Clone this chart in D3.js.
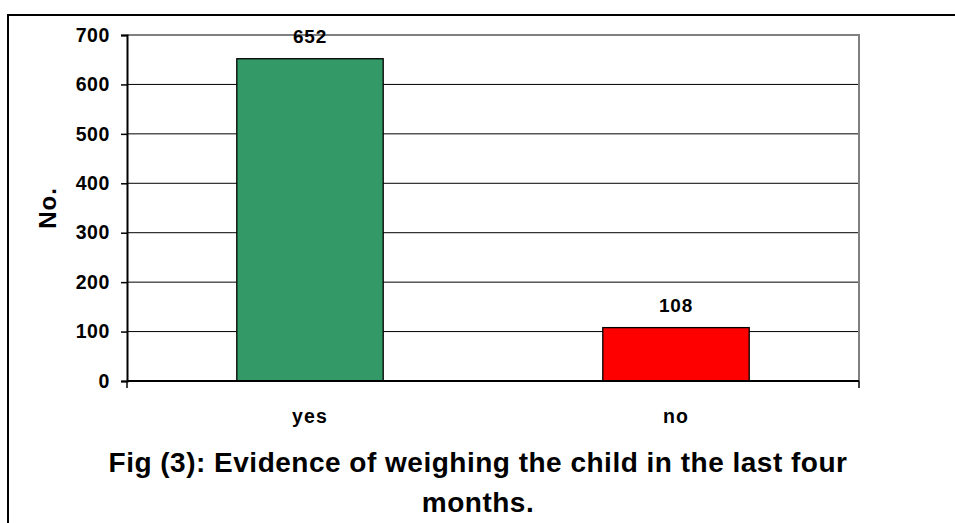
<!DOCTYPE html>
<html lang="en">
<head>
<meta charset="UTF-8">
<script src="https://d3js.org/d3.v7.min.js"></script>
<title>Fig 3</title>
<style>
    body { margin: 0; background: #fff; }
    svg { display: block; font-family: "Liberation Sans", Arial, sans-serif; font-weight: bold; }
</style>
</head>
<body>
<svg width="955" height="523"></svg>
<script>
    const categories = ["yes", "no"]
    const values = [652, 108]
    const colors = ["#339966", "#FF0000"]
    const yTicks = [0, 100, 200, 300, 400, 500, 600, 700]

    const margin = { left: 127, right: 96, top: 35, bottom: 142 }
    const width = 955, height = 523
    const font = "Liberation Sans, Arial, sans-serif"
    const svg = d3.select("svg")

    // outer frame
    svg.append("rect")
        .attr("x", 8).attr("y", 15)
        .attr("width", 960).attr("height", 520)
        .attr("fill", "none").attr("stroke", "#000").attr("stroke-width", 2)

    const x = d3.scaleBand()
        .domain(categories)
        .range([margin.left, width - margin.right])
        .paddingInner(0.6)
        .paddingOuter(0.3)
    const y = d3.scaleLinear()
        .domain([0, 700])
        .range([height - margin.bottom, margin.top])

    // grid lines
    svg.append("g").selectAll("line")
        .data(yTicks.slice(1, -1))
        .join("line")
        .attr("x1", margin.left).attr("x2", width - margin.right)
        .attr("y1", d => y(d)).attr("y2", d => y(d))
        .attr("stroke", "#000").attr("stroke-width", 1)

    // plot border top/right (gray)
    svg.append("path")
        .attr("d", `M${margin.left},${y(700)}H${width - margin.right}V${y(0)}`)
        .attr("fill", "none").attr("stroke", "#808080").attr("stroke-width", 2)

    // bars
    svg.append("g").selectAll("rect")
        .data(values)
        .join("rect")
        .attr("x", (d, i) => x(categories[i]))
        .attr("y", d => y(d))
        .attr("width", x.bandwidth())
        .attr("height", d => y(0) - y(d))
        .attr("fill", (d, i) => colors[i])
        .attr("stroke", "#000").attr("stroke-width", 1.3)

    // value labels
    svg.append("g").selectAll("text")
        .data(values)
        .join("text")
        .attr("x", (d, i) => x(categories[i]) + x.bandwidth() / 2)
        .attr("y", d => y(d) - 16)
        .attr("text-anchor", "middle")
        .attr("font-size", 19)
        .attr("letter-spacing", 0.8)
        .text(d => d)

    // y axis
    const yAxis = svg.append("g")
        .attr("transform", `translate(${margin.left},0)`)
        .call(d3.axisLeft(y).tickValues(yTicks).tickSize(6).tickPadding(11))
    yAxis.select(".domain").attr("stroke", "#000").attr("stroke-width", 2)
    yAxis.selectAll(".tick line").attr("stroke", "#000").attr("stroke-width", 1.5)
    yAxis.selectAll(".tick text")
        .attr("font-size", 19.5).attr("font-family", font)
        .attr("letter-spacing", 0.6)
        .attr("font-weight", "bold").attr("fill", "#000")

    // x axis
    const xAxis = svg.append("g")
        .attr("transform", `translate(0,${y(0)})`)
        .call(d3.axisBottom(x).tickSize(0).tickPadding(28))
    xAxis.select(".domain").attr("stroke", "#000").attr("stroke-width", 2)
        .attr("d", `M${margin.left},0H${width - margin.right}`)
    xAxis.selectAll(".tick text")
        .attr("font-size", 19.5).attr("font-family", font)
        .attr("letter-spacing", 1.2)
        .attr("font-weight", "bold").attr("fill", "#000")
    // end ticks of the category axis
    const edges = [margin.left, width - margin.right]
    xAxis.append("g").selectAll("line")
        .data(edges)
        .join("line")
        .attr("x1", d => d).attr("x2", d => d)
        .attr("y1", 0).attr("y2", 7)
        .attr("stroke", "#000").attr("stroke-width", 1.5)

    // y title
    svg.append("text")
        .attr("transform", `translate(56,${(y(0) + y(700)) / 2}) rotate(-90)`)
        .attr("text-anchor", "middle")
        .attr("font-size", 24)
        .attr("letter-spacing", 1)
        .text("No.")

    // caption
    const caption = svg.append("text")
        .attr("text-anchor", "middle")
        .attr("font-size", 28)
        .attr("letter-spacing", 0.5)
    caption.append("tspan").attr("x", 478).attr("y", 472)
        .text("Fig (3): Evidence of weighing the child in the last four")
    caption.append("tspan").attr("x", 478).attr("y", 512)
        .text("months.")
</script>
</body>
</html>
